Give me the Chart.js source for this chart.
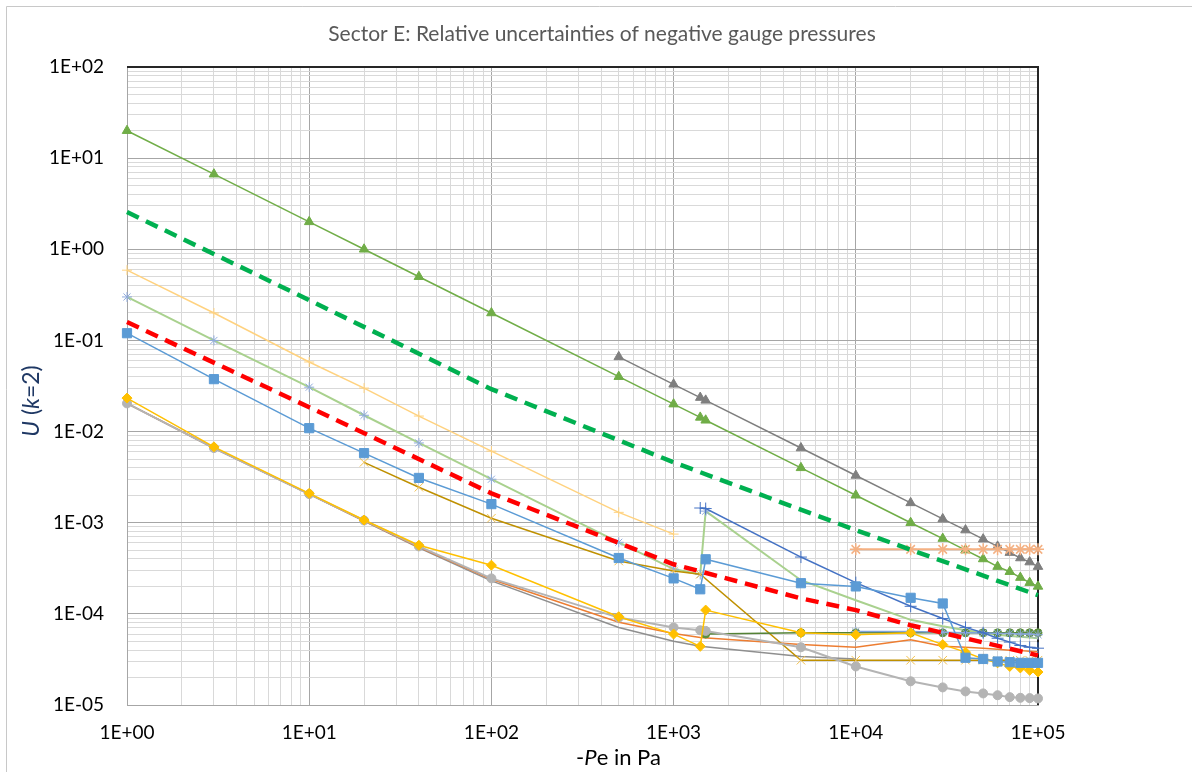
<!DOCTYPE html>
<html>
<head>
<meta charset="utf-8">
<title>Sector E</title>
<script src="https://cdn.jsdelivr.net/npm/chart.js@4.4.1/dist/chart.umd.min.js"></script>
<style>
html, body { margin: 0; padding: 0; background: #fff; }
#wrap { position: relative; width: 1192px; height: 772px; }
</style>
</head>
<body>
<div id="wrap"><canvas id="chart"></canvas></div>
<script>
// texts
const chartTitle = 'Sector E: Relative uncertainties of negative gauge pressures';
const xTickLabels = ['1E+00', '1E+01', '1E+02', '1E+03', '1E+04', '1E+05'];
const yTickLabels = ['1E-05', '1E-04', '1E-03', '1E-02', '1E-01', '1E+00', '1E+01', '1E+02'];

// pressure steps in Pa
const xLow = [1, 3, 10, 20, 40, 100, 500, 1000, 1400, 1500];
const xHigh = [5000, 10000, 20000, 30000, 40000, 50000, 60000, 70000, 80000, 90000, 100000];
const xTop = [10000, 20000, 30000, 40000, 50000, 60000, 70000, 80000, 90000, 100000];

// series
const greenTriX = xLow.concat(xHigh);
const greenTriY = [20, 6.67, 2.0, 1.0, 0.5, 0.2, 0.04, 0.02, 0.0143, 0.0133,
    0.004, 0.002, 0.001, 0.00067, 0.0005, 0.0004, 0.00033, 0.00029, 0.00025, 0.00022, 0.0002];

const grayTriX = [500, 1000, 1400, 1500].concat(xHigh);
const grayTriY = [0.066, 0.033, 0.0236, 0.022,
    0.0066, 0.0033, 0.00165, 0.0011, 0.00083, 0.00066, 0.00055, 0.00047, 0.00041, 0.00037, 0.00033];

const greenDashX = [1, 10, 100, 1000, 10000, 100000];
const greenDashY = [2.56, 0.277, 0.0292, 0.0046, 0.00083, 0.00016];

const redDashX = [1, 10, 100, 1000, 5000, 10000, 20000, 100000];
const redDashY = [0.159, 0.0185, 0.0021, 0.00035, 0.000148, 0.00011, 0.000075, 0.000035];

const lightOrangeX = [1, 3, 10, 20, 40, 100, 500, 1000];
const lightOrangeY = [0.59, 0.2, 0.058, 0.030, 0.0148, 0.0061, 0.0013, 0.00075];

const lightGreenX = xLow.concat(xHigh);
const lightGreenY = [0.30, 0.10, 0.0307, 0.0151, 0.0075, 0.0030, 0.00061, 0.00031, 0.00027, 0.00134,
    0.000234, 0.000141, 0.000086, 0.000073, 0.000066, 0.000062, 0.000059, 0.000057, 0.000056, 0.000055, 0.000054];

const blueSqX = xLow.concat(xHigh);
const blueSqY = [0.120, 0.0376, 0.0109, 0.0058, 0.0031, 0.0016, 0.00041, 0.000245, 0.000186, 0.000397,
    0.000217, 0.0002, 0.00015, 0.00013, 0.000033, 0.000032, 0.00003, 0.0000295, 0.000029, 0.000029, 0.000029];

const goldXX = [20, 40, 100, 500, 1000, 1400].concat(xHigh);
const goldXY = [0.0046, 0.00245, 0.00112, 0.00038, 0.000295, 0.000272,
    0.000031, 0.000031, 0.000031, 0.000031, 0.000031, 0.000031, 0.000031, 0.000031, 0.000031, 0.000031, 0.000031];

const goldDiaX = xLow.concat(xHigh);
const goldDiaY = [0.0233, 0.0068, 0.0021, 0.00107, 0.000566, 0.000342, 0.000093, 0.00006, 0.000044, 0.00011,
    0.000062, 0.000059, 0.000062, 0.000046, 0.000038, 0.000032, 0.000029, 0.0000265, 0.0000255, 0.000024, 0.000023];

const grayCircX = xLow.concat(xHigh);
const grayCircY = [0.0204, 0.0066, 0.00206, 0.00106, 0.00055, 0.000245, 0.000091, 0.000071, 0.000066, 0.000065,
    0.000043, 0.0000265, 0.0000182, 0.0000156, 0.0000141, 0.0000134, 0.0000128, 0.0000122, 0.000012, 0.0000119, 0.0000118];

const orangeX = [1, 3, 10, 20, 40, 100, 500, 1000, 1400].concat(xHigh);
const orangeY = [0.0204, 0.0066, 0.00206, 0.00105, 0.00054, 0.00024, 0.000081, 0.000061, 0.000055,
    0.000046, 0.000043, 0.000052, 0.000044, 0.000043, 0.000042, 0.000041, 0.00004, 0.0000395, 0.000039, 0.0000385];

const darkGrayX = [1, 3, 10, 20, 40, 100, 500, 1000, 1400, 5000, 10000];
const darkGrayY = [0.0204, 0.0066, 0.00206, 0.00104, 0.00053, 0.00023, 0.000071, 0.00005, 0.000044, 0.000034, 0.000032];

const darkBlueX = [1400, 1500].concat(xHigh);
const darkBlueY = [0.00145, 0.00143, 0.00042, 0.00022, 0.000121, 0.000089, 0.000071, 0.000062, 0.000054, 0.000049, 0.000045, 0.000043, 0.000042];

const salmonX = xTop;
const salmonY = [0.00051, 0.00051, 0.00051, 0.00051, 0.00051, 0.00051, 0.00051, 0.00051, 0.00051, 0.00051];

const darkGreenX = [1500].concat(xHigh);
const darkGreenY = [0.00006, 0.000062, 0.000062, 0.000062, 0.000062, 0.000062, 0.000062, 0.000062, 0.000062, 0.000062, 0.000062, 0.000062];

const lightBlueX = xTop;
const lightBlueY = [0.000064, 0.000064, 0.000063, 0.000062, 0.000062, 0.000061, 0.000061, 0.00006, 0.00006, 0.000059];

// helpers
function pts(xs, ys) {
    return xs.map((x, i) => ({ x: x, y: ys[i] }));
}

function series(xs, ys, opts) {
    return Object.assign({
        data: pts(xs, ys),
        showLine: true,
        fill: false,
        tension: 0,
        clip: false,
        borderWidth: 1.5,
        pointRadius: 0,
        pointBorderWidth: 1
    }, opts);
}

// 1..9 x 10^e ticks, like Excel minor gridlines
function logTicks(minExp, maxExp) {
    const t = [];
    for (let e = minExp; e < maxExp; e++) {
        for (let m = 1; m < 10; m++) t.push({ value: m * Math.pow(10, e), major: m === 1 });
    }
    t.push({ value: Math.pow(10, maxExp), major: true });
    return t;
}

const gridColor = c => (c.tick && c.tick.major) ? '#A6A6A6' : '#D9D9D9';

const datasets = [
    series(redDashX, redDashY, { borderColor: '#FF0000', borderWidth: 4.5, borderDash: [13, 8] }),
    series(greenDashX, greenDashY, { borderColor: '#00B050', borderWidth: 4.5, borderDash: [13, 8] }),
    series(blueSqX, blueSqY, { borderColor: '#5B9BD5', pointStyle: 'rect', pointRadius: 6.5, backgroundColor: '#5B9BD5', pointBorderColor: '#5B9BD5' }),
    series(darkBlueX, darkBlueY, { borderColor: '#4472C4', pointStyle: 'cross', pointRadius: 6, pointBorderColor: '#4472C4' }),
    series(goldDiaX, goldDiaY, { borderColor: '#FFC000', pointStyle: 'rectRot', pointRadius: 5, backgroundColor: '#FFC000', pointBorderColor: '#FFC000' }),
    series(grayCircX, grayCircY, { borderColor: '#B4B4B4', borderWidth: 2, pointStyle: 'circle', pointRadius: 4.5, backgroundColor: '#B4B4B4', pointBorderColor: '#B4B4B4' }),
    series(lightBlueX, lightBlueY, { borderColor: '#7FA3DA', pointStyle: 'star', pointRadius: 5, pointBorderColor: '#8FAADC' }),
    series(darkGreenX, darkGreenY, { borderColor: '#548235', pointStyle: 'circle', pointRadius: 4, backgroundColor: '#5E8F3C', pointBorderColor: '#5E8F3C' }),
    series(salmonX, salmonY, { borderColor: '#F4B183', borderWidth: 2, pointStyle: 'star', pointRadius: 6, pointBorderColor: '#F4B183', pointBorderWidth: 1.5 }),
    series(goldXX, goldXY, { borderColor: '#BF9000', pointStyle: 'crossRot', pointRadius: 6, pointBorderColor: '#F2C14E' }),
    series(lightGreenX, lightGreenY, { borderColor: '#A9D18E', borderWidth: 2, pointStyle: 'star', pointRadius: c => c.dataIndex < 10 ? 5 : 0, pointBorderColor: '#8FAADC' }),
    series(lightOrangeX, lightOrangeY, { borderColor: '#FFD27F', pointStyle: 'cross', pointRadius: 5, pointBorderColor: '#FFD27F' }),
    series(greenTriX, greenTriY, { borderColor: '#70AD47', pointStyle: 'triangle', pointRadius: 5.5, backgroundColor: '#70AD47', pointBorderColor: '#70AD47' }),
    series(grayTriX, grayTriY, { borderColor: '#7F7F7F', pointStyle: 'triangle', pointRadius: 5.5, backgroundColor: '#7F7F7F', pointBorderColor: '#7F7F7F' }),
    series(orangeX, orangeY, { borderColor: '#ED7D31' }),
    series(darkGrayX, darkGrayY, { borderColor: '#8F8F8F' })
];

// draws runs of text centred on (cx, cy), some of them italic
function drawRuns(ctx, runs, cx, cy, size) {
    let total = 0;
    runs.forEach(r => {
        ctx.font = (r[1] ? 'italic ' : '') + size + 'px Lato';
        total += ctx.measureText(r[0]).width;
    });
    let x = cx - total / 2;
    runs.forEach(r => {
        ctx.font = (r[1] ? 'italic ' : '') + size + 'px Lato';
        ctx.fillText(r[0], x, cy);
        x += ctx.measureText(r[0]).width;
    });
}

const decor = {
    id: 'decor',
    beforeDraw(chart) {
        const ctx = chart.ctx;
        ctx.save();
        ctx.fillStyle = '#fff';
        ctx.fillRect(0, 0, chart.width, chart.height);
        ctx.strokeStyle = '#C8C8C8';
        ctx.lineWidth = 1;
        ctx.beginPath();
        ctx.moveTo(6.5, chart.height);
        ctx.lineTo(6.5, 6.5);
        ctx.lineTo(chart.width, 6.5);
        ctx.stroke();
        ctx.restore();
    },
    beforeDatasetsDraw(chart) {
        const ctx = chart.ctx, a = chart.chartArea;
        ctx.save();
        ctx.strokeStyle = '#262626';
        ctx.lineWidth = 2;
        ctx.beginPath();
        ctx.moveTo(a.left, a.top);
        ctx.lineTo(a.right, a.top);
        ctx.lineTo(a.right, a.bottom);
        ctx.stroke();
        ctx.restore();
    },
    afterDraw(chart) {
        const ctx = chart.ctx, a = chart.chartArea;
        ctx.save();
        ctx.textBaseline = 'middle';
        ctx.textAlign = 'left';
        ctx.fillStyle = '#595959';
        drawRuns(ctx, [[chartTitle, false]], 602, 34, 21);

        ctx.fillStyle = '#000';
        drawRuns(ctx, [['-', false], ['P', true], ['e in Pa', false]], (a.left + a.right) / 2 + 36, 758, 22);

        ctx.translate(32, 401);
        ctx.rotate(-Math.PI / 2);
        ctx.fillStyle = '#1F3864';
        drawRuns(ctx, [['U', true], [' (', false], ['k', true], ['=2)', false]], 0, 0, 23);
        ctx.restore();
    }
};

new Chart(document.getElementById('chart'), {
    type: 'line',
    data: { datasets: datasets },
    options: {
        responsive: true,
        maintainAspectRatio: false,
        animation: false,
        layout: { padding: { top: 67, right: 154, left: 0, bottom: 0 } },
        plugins: { legend: { display: false }, tooltip: { enabled: false }, title: { display: false } },
        scales: {
            x: {
                type: 'logarithmic',
                min: 1,
                max: 100000,
                afterBuildTicks: s => { s.ticks = logTicks(0, 5); },
                afterFit: s => { s.height = 67; },
                grid: { color: gridColor, drawTicks: false },
                border: { display: true, color: '#A6A6A6' },
                ticks: {
                    autoSkip: false,
                    maxRotation: 0,
                    padding: 16,
                    color: '#000',
                    font: { family: 'Lato', size: 19 },
                    callback: (v, i, t) => t[i].major ? xTickLabels[Math.round(Math.log10(v))] : ''
                }
            },
            y: {
                type: 'logarithmic',
                min: 0.00001,
                max: 100,
                afterBuildTicks: s => { s.ticks = logTicks(-5, 2); },
                afterFit: s => { s.width = 127; },
                grid: { color: gridColor, drawTicks: false },
                border: { display: true, color: '#A6A6A6' },
                ticks: {
                    autoSkip: false,
                    padding: 23,
                    color: '#000',
                    font: { family: 'Lato', size: 19 },
                    callback: (v, i, t) => t[i].major ? yTickLabels[Math.round(Math.log10(v)) + 5] : ''
                }
            }
        }
    },
    plugins: [decor]
});
</script>
</body>
</html>
